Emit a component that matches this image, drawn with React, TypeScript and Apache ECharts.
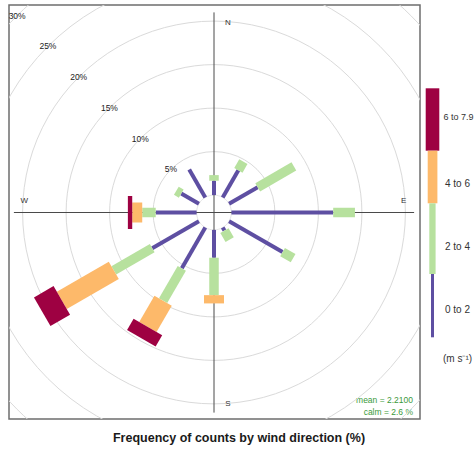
import React, { useEffect, useRef } from "react";
import * as echarts from "echarts";

// ---- data ----
const directions = [0, 30, 60, 90, 120, 150, 180, 210, 240, 270, 300, 330];
const freq0to2 = [1.65, 3.6, 3.8, 11.7, 7.1, 0.4, 3.2, 5.4, 6.2, 4.7, 2.35, 3.7];
const freq2to4 = [0.65, 1.15, 4.8, 2.5, 1.4, 1.2, 4.3, 4.3, 5.1, 1.55, 0.65, 0];
const freq4to6 = [0, 0, 0, 0, 0, 0, 0.95, 3.5, 6.9, 1.15, 0, 0];
const freq6to8 = [0, 0, 0, 0, 0, 0, 0, 1.5, 2.6, 0.5, 0, 0];
const speedBands = ["0 to 2", "2 to 4", "4 to 6", "6 to 7.9"];
const ringPercents = [5, 10, 15, 20, 25, 30];
const compassLabels = ["N", "E", "S", "W"];
const meanSpeed = "2.2100";
const calmPercent = "2.6";
const titleText = "Frequency of counts by wind direction (%)";

// ---- styling / layout ----
const bandColors = ["#5E4FA2", "#B7E19E", "#FDB96A", "#9E0142"];
const bandWidths = [4, 9.5, 20, 33];
const OFFSET = 2; // inner (calm) circle, in % units
const PX = 8.7; // pixels per % unit
const FONT = "Liberation Sans, Arial, sans-serif";
const GRID = { left: 9, top: 5, width: 411, height: 414 };
const CX = 214;
const CY = 212.5;

const bandFreqs = [freq0to2, freq2to4, freq4to6, freq6to8];

function bandData(b: number) {
  const out: number[][] = [];
  directions.forEach((d, i) => {
    let start = 0;
    for (let k = 0; k < b; k++) start += bandFreqs[k][i];
    const end = start + bandFreqs[b][i];
    if (end > start) out.push([d, start, end]);
  });
  return out;
}

function polarPoint(api: any, dir: number, pct: number) {
  const r = pct + OFFSET;
  const a = (dir * Math.PI) / 180;
  return api.coord([r * Math.sin(a), r * Math.cos(a)]);
}

export default function App() {
  const ref = useRef<HTMLDivElement>(null);

  useEffect(() => {
    if (!ref.current) return;
    const chart = echarts.init(ref.current, undefined, { renderer: "svg" });

    const xMin = -(CX - GRID.left) / PX;
    const xMax = (GRID.left + GRID.width - CX) / PX;
    const yMax = (CY - GRID.top) / PX;
    const yMin = -(GRID.top + GRID.height - CY) / PX;

    const barSeries = speedBands.map((name, b) => ({
      type: "custom",
      name,
      coordinateSystem: "cartesian2d",
      silent: true,
      z: 10 + b,
      data: bandData(b),
      renderItem: (params: any, api: any) => {
        const dir = api.value(0);
        const p1 = polarPoint(api, dir, api.value(1));
        const p2 = polarPoint(api, dir, api.value(2));
        const dx = p2[0] - p1[0];
        const dy = p2[1] - p1[1];
        const len = Math.sqrt(dx * dx + dy * dy) || 1;
        const nx = (-dy / len) * (bandWidths[b] / 2);
        const ny = (dx / len) * (bandWidths[b] / 2);
        return {
          type: "polygon",
          shape: {
            points: [
              [p1[0] + nx, p1[1] + ny],
              [p2[0] + nx, p2[1] + ny],
              [p2[0] - nx, p2[1] - ny],
              [p1[0] - nx, p1[1] - ny],
            ],
          },
          style: { fill: bandColors[b], stroke: null },
        };
      },
    }));

    const option: any = {
      animation: false,
      grid: {
        ...GRID,
        show: true,
        borderColor: "#6e6e6e",
        borderWidth: 1.5,
        backgroundColor: "transparent",
      },
      xAxis: { type: "value", min: xMin, max: xMax, show: false },
      yAxis: { type: "value", min: yMin, max: yMax, show: false },
      series: [
        {
          type: "custom",
          coordinateSystem: "cartesian2d",
          clip: true,
          silent: true,
          z: 1,
          data: ringPercents.map((p) => [p, 0]),
          renderItem: (params: any, api: any) => {
            const c = api.coord([0, 0]);
            const e = api.coord([api.value(0) + OFFSET, 0]);
            return {
              type: "circle",
              shape: { cx: c[0], cy: c[1], r: e[0] - c[0] },
              style: { fill: null, stroke: "#dadada", lineWidth: 1 },
            };
          },
        },
        {
          type: "custom",
          coordinateSystem: "cartesian2d",
          silent: true,
          z: 2,
          data: [[0, 0]],
          renderItem: (params: any, api: any) => {
            const c = api.coord([0, 0]);
            const e = api.coord([OFFSET, 0]);
            const L = 23;
            const top = api.coord([0, L]);
            const bot = api.coord([0, -L]);
            const lft = api.coord([-L, 0]);
            const rgt = api.coord([L, 0]);
            const lp = [
              api.coord([1.6, 21.8]),
              api.coord([21.8, 1.4]),
              api.coord([1.6, -22]),
              api.coord([-21.8, 1.4]),
            ];
            return {
              type: "group",
              children: [
                {
                  type: "circle",
                  shape: { cx: c[0], cy: c[1], r: e[0] - c[0] },
                  style: { fill: null, stroke: "#e6e6e6", lineWidth: 1 },
                },
                {
                  type: "line",
                  shape: { x1: top[0], y1: top[1], x2: bot[0], y2: bot[1] },
                  style: { stroke: "#4a4a4a", lineWidth: 1 },
                },
                {
                  type: "line",
                  shape: { x1: lft[0], y1: lft[1], x2: rgt[0], y2: rgt[1] },
                  style: { stroke: "#4a4a4a", lineWidth: 1 },
                },
                ...compassLabels.map((t, i) => ({
                  type: "text",
                  x: lp[i][0],
                  y: lp[i][1],
                  style: {
                    text: t,
                    fill: "#333",
                    fontSize: 8,
                    fontFamily: FONT,
                    align: "center",
                    verticalAlign: "middle",
                  },
                })),
              ],
            };
          },
        },
        {
          type: "custom",
          coordinateSystem: "cartesian2d",
          silent: true,
          z: 3,
          data: ringPercents.map((p) => [p, 0]),
          renderItem: (params: any, api: any) => {
            const r = api.value(0) + OFFSET;
            const k = Math.SQRT1_2;
            const pt = api.coord([-r * k, r * k]);
            return {
              type: "text",
              x: pt[0],
              y: pt[1],
              style: {
                text: api.value(0) + "%",
                fill: "#222",
                fontSize: 8.5,
                fontFamily: FONT,
                align: "center",
                verticalAlign: "middle",
              },
            };
          },
        },
        ...barSeries,
      ],
      graphic: [
        {
          type: "text",
          x: 239,
          y: 438,
          style: {
            text: titleText,
            fill: "#1a1a1a",
            fontSize: 12.5,
            fontWeight: "bold",
            fontFamily: FONT,
            align: "center",
            verticalAlign: "middle",
          },
        },
        {
          type: "text",
          x: 413,
          y: 400,
          style: {
            text: "mean = " + meanSpeed,
            fill: "#3a9a3a",
            fontSize: 8.5,
            fontFamily: FONT,
            align: "right",
            verticalAlign: "middle",
          },
        },
        {
          type: "text",
          x: 413,
          y: 412,
          style: {
            text: "calm = " + calmPercent + " %",
            fill: "#3a9a3a",
            fontSize: 8.5,
            fontFamily: FONT,
            align: "right",
            verticalAlign: "middle",
          },
        },
        // colour key
        { type: "rect", shape: { x: 425.7, y: 88.3, width: 13.6, height: 62.4 }, style: { fill: bandColors[3] } },
        { type: "rect", shape: { x: 427.7, y: 150.7, width: 9.7, height: 52.6 }, style: { fill: bandColors[2] } },
        { type: "rect", shape: { x: 429.3, y: 203.3, width: 6.3, height: 70.7 }, style: { fill: bandColors[1] } },
        { type: "rect", shape: { x: 431, y: 274, width: 3, height: 63.3 }, style: { fill: bandColors[0] } },
        ...[309, 246, 183, 117].map((y, i) => ({
          type: "text",
          x: i === 3 ? 443.5 : 445,
          y,
          style: {
            text: speedBands[i],
            fill: "#333",
            fontSize: i === 3 ? 9 : 10,
            fontFamily: FONT,
            align: "left",
            verticalAlign: "middle",
          },
        })),
        {
          type: "text",
          x: 443,
          y: 358,
          style: {
            text: "(m s\u207B\u00B9)",
            fill: "#333",
            fontSize: 10,
            fontFamily: FONT,
            align: "left",
            verticalAlign: "middle",
          },
        },
      ],
    };

    chart.setOption(option);
    return () => chart.dispose();
  }, []);

  return (
    <div
      ref={ref}
      style={{ position: "absolute", left: 0, top: 0, width: 475, height: 450, background: "#fff" }}
    />
  );
}
